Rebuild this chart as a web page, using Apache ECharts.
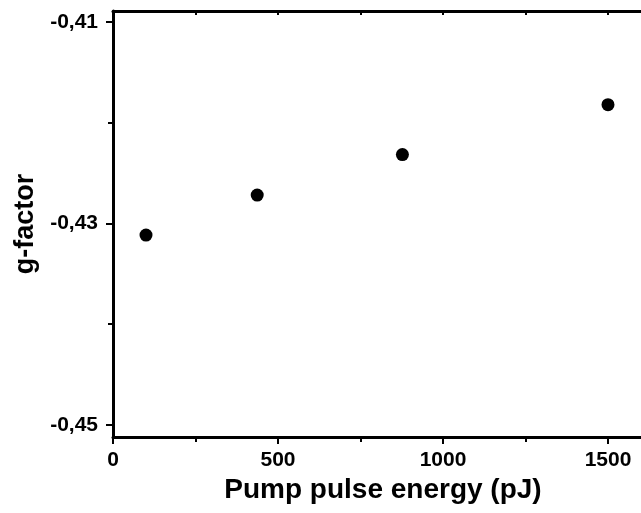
<!DOCTYPE html>
<html>
<head>
<meta charset="utf-8">
<script src="https://cdn.jsdelivr.net/npm/echarts@6/dist/echarts.min.js"></script>
<style>
  html, body { margin: 0; padding: 0; background: #fff; }
  #chart { width: 641px; height: 513px; }
</style>
</head>
<body>
<div id="chart"></div>
<script>
// g-factor versus pump pulse energy
const pumpEnergy = [100, 437, 877, 1500];           // pJ
const gFactor = [-0.43115, -0.42718, -0.42316, -0.4182];

const xTicks = [0, 500, 1000, 1500];
const xMinorTicks = [250, 750, 1250];
const yTicks = [-0.45, -0.43, -0.41];
const yMinorTicks = [-0.44, -0.42];

const xMin = 0, xMax = 1600;
const yMin = -0.4512, yMax = -0.4089;

const FONT = 'Liberation Sans, Arial, sans-serif';
const lineStyle = { color: '#000', width: 3 };

const fmtX = v => String(Math.round(v));
const fmtY = v => v.toFixed(2).replace('.', ',');

const chart = echarts.init(document.getElementById('chart'), null, { renderer: 'canvas' });

chart.setOption({
  animation: false,
  backgroundColor: '#fff',
  grid: { left: 113, top: 11, right: -3, bottom: 76, containLabel: false },
  xAxis: [
    {
      // bottom axis, labelled, major ticks outward
      type: 'value', min: xMin, max: xMax, position: 'bottom',
      name: 'Pump pulse energy (pJ)', nameLocation: 'middle', nameGap: 39,
      nameTextStyle: { fontFamily: FONT, fontWeight: 'bold', fontSize: 28, color: '#000', padding: [0, 0, 0, 12] },
      axisLine: { show: true, onZero: false, lineStyle },
      axisTick: { show: true, customValues: xTicks, length: 7, inside: false, lineStyle: { color: '#000', width: 2 } },
      axisLabel: { customValues: xTicks, margin: 13, formatter: fmtX, fontFamily: FONT, fontWeight: 'bold', fontSize: 21, color: '#000' },
      splitLine: { show: false }
    },
    {
      // minor ticks on the bottom axis
      type: 'value', min: xMin, max: xMax, position: 'bottom',
      axisLine: { show: false },
      axisTick: { show: true, customValues: xMinorTicks, length: 5, lineStyle: { color: '#000', width: 2 } },
      axisLabel: { show: false },
      splitLine: { show: false }
    },
    {
      // top frame edge with inward ticks
      type: 'value', min: xMin, max: xMax, position: 'top',
      axisLine: { show: true, onZero: false, lineStyle },
      axisTick: { show: true, inside: true, customValues: xTicks.concat(xMinorTicks), length: 4, lineStyle: { color: '#000', width: 2 } },
      axisLabel: { show: false },
      splitLine: { show: false }
    }
  ],
  yAxis: [
    {
      type: 'value', min: yMin, max: yMax, position: 'left',
      name: 'g-factor', nameLocation: 'middle', nameGap: 72, nameRotate: 90,
      nameTextStyle: { fontFamily: FONT, fontWeight: 'bold', fontSize: 27, color: '#000' },
      axisLine: { show: true, onZero: false, lineStyle },
      axisTick: { show: true, customValues: yTicks, length: 7, lineStyle: { color: '#000', width: 2 } },
      axisLabel: { customValues: yTicks, margin: 15, formatter: fmtY, fontFamily: FONT, fontWeight: 'bold', fontSize: 21, color: '#000' },
      splitLine: { show: false }
    },
    {
      // minor ticks on the left axis
      type: 'value', min: yMin, max: yMax, position: 'left',
      axisLine: { show: false },
      axisTick: { show: true, customValues: yMinorTicks, length: 5, lineStyle: { color: '#000', width: 2 } },
      axisLabel: { show: false },
      splitLine: { show: false }
    }
  ],
  series: [
    {
      type: 'scatter',
      xAxisIndex: 0, yAxisIndex: 0,
      data: pumpEnergy.map((x, i) => [x, gFactor[i]]),
      symbol: 'circle', symbolSize: 13,
      itemStyle: { color: '#000', opacity: 1 },
      clip: false
    }
  ]
});
</script>
</body>
</html>
